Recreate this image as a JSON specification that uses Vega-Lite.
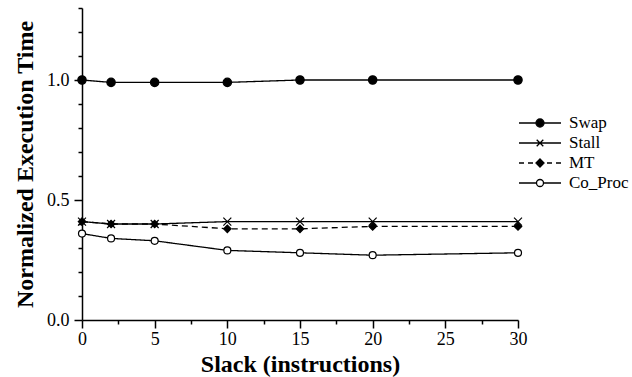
{
  "$schema": "https://vega.github.io/schema/vega-lite/v6.json",
  "width": 436,
  "height": 312,
  "autosize": {"type": "none"},
  "padding": {"left": 82, "top": 8, "right": 114, "bottom": 57},
  "background": "white",
  "config": {
    "view": {"stroke": null},
    "font": "Times New Roman",
    "axis": {
      "grid": false,
      "domainColor": "black",
      "domainWidth": 1.5,
      "tickColor": "black",
      "tickWidth": 1.5,
      "labelFont": "Times New Roman",
      "labelFontSize": 18,
      "labelColor": "black",
      "labelOverlap": false,
      "labelFlush": false,
      "titleFont": "Times New Roman",
      "titleFontSize": 24,
      "titleFontWeight": "bold",
      "titleColor": "black"
    }
  },
  "data": {
    "values": [
      {"slack": 0, "series": "Swap", "value": 1.0},
      {"slack": 2, "series": "Swap", "value": 0.99},
      {"slack": 5, "series": "Swap", "value": 0.99},
      {"slack": 10, "series": "Swap", "value": 0.99},
      {"slack": 15, "series": "Swap", "value": 1.0},
      {"slack": 20, "series": "Swap", "value": 1.0},
      {"slack": 30, "series": "Swap", "value": 1.0},
      {"slack": 0, "series": "Stall", "value": 0.41},
      {"slack": 2, "series": "Stall", "value": 0.40},
      {"slack": 5, "series": "Stall", "value": 0.40},
      {"slack": 10, "series": "Stall", "value": 0.41},
      {"slack": 15, "series": "Stall", "value": 0.41},
      {"slack": 20, "series": "Stall", "value": 0.41},
      {"slack": 30, "series": "Stall", "value": 0.41},
      {"slack": 0, "series": "MT", "value": 0.41},
      {"slack": 2, "series": "MT", "value": 0.40},
      {"slack": 5, "series": "MT", "value": 0.40},
      {"slack": 10, "series": "MT", "value": 0.38},
      {"slack": 15, "series": "MT", "value": 0.38},
      {"slack": 20, "series": "MT", "value": 0.39},
      {"slack": 30, "series": "MT", "value": 0.39},
      {"slack": 0, "series": "Co_Proc", "value": 0.36},
      {"slack": 2, "series": "Co_Proc", "value": 0.34},
      {"slack": 5, "series": "Co_Proc", "value": 0.33},
      {"slack": 10, "series": "Co_Proc", "value": 0.29},
      {"slack": 15, "series": "Co_Proc", "value": 0.28},
      {"slack": 20, "series": "Co_Proc", "value": 0.27},
      {"slack": 30, "series": "Co_Proc", "value": 0.28}
    ]
  },
  "encoding": {
    "x": {
      "field": "slack", "type": "quantitative",
      "scale": {"domain": [0, 30], "nice": false, "zero": false},
      "axis": {
        "title": "Slack (instructions)",
        "values": [0, 2.5, 5, 7.5, 10, 12.5, 15, 17.5, 20, 22.5, 25, 27.5, 30],
        "labelExpr": "datum.value % 5 === 0 ? datum.label : ''",
        "tickSize": {"condition": {"test": "datum.value % 5 === 0", "value": 8}, "value": 4},
        "labelPadding": 2,
        "titlePadding": 4
      }
    },
    "y": {
      "field": "value", "type": "quantitative",
      "scale": {"domain": [0, 1.3], "nice": false, "zero": false},
      "axis": {
        "title": "Normalized Execution Time",
        "values": [0, 0.1, 0.2, 0.3, 0.4, 0.5, 0.6, 0.7, 0.8, 0.9, 1.0, 1.1, 1.2, 1.3],
        "format": ".1f",
        "labelExpr": "abs(datum.value*2 - round(datum.value*2)) < 0.001 ? datum.label : ''",
        "tickSize": {"condition": {"test": "abs(datum.value*2 - round(datum.value*2)) < 0.001", "value": 8}, "value": 4},
        "labelPadding": 5,
        "titlePadding": 9
      }
    }
  },
  "layer": [
    {
      "mark": {"type": "line", "color": "black", "strokeWidth": 1.3},
      "encoding": {
        "detail": {"field": "series"},
        "strokeDash": {
          "field": "series", "type": "nominal",
          "scale": {"domain": ["Swap", "Stall", "MT", "Co_Proc"], "range": [[1, 0], [1, 0], [6, 4], [1, 0]]},
          "legend": null
        }
      }
    },
    {
      "mark": {"type": "point", "filled": true, "stroke": "black", "strokeWidth": 1.2, "opacity": 1},
      "encoding": {
        "shape": {
          "field": "series", "type": "nominal",
          "scale": {"domain": ["Swap", "Stall", "MT", "Co_Proc"], "range": ["circle", "M-1,-1L1,1M-1,1L1,-1", "diamond", "circle"]},
          "legend": null
        },
        "fill": {
          "field": "series", "type": "nominal",
          "scale": {"domain": ["Swap", "Stall", "MT", "Co_Proc"], "range": ["black", "transparent", "black", "white"]},
          "legend": null
        },
        "size": {
          "field": "series", "type": "nominal",
          "scale": {"domain": ["Swap", "Stall", "MT", "Co_Proc"], "range": [70, 49, 36, 50]},
          "legend": null
        }
      }
    },
    {
      "mark": {"type": "point", "filled": true, "stroke": "black", "strokeWidth": 1.3, "opacity": 0},
      "encoding": {
        "shape": {
          "field": "series", "type": "nominal",
          "scale": {"domain": ["Swap", "Stall", "MT", "Co_Proc"], "range": [
            "M-2.1,0H-0.4M0.4,0H2.1M-0.4,0A0.4,0.4 0 1,1 0.4,0A0.4,0.4 0 1,1 -0.4,0Z",
            "M-2.1,0H2.1M-0.33,-0.33L0.33,0.33M-0.33,0.33L0.33,-0.33",
            "M-2.1,0H-1.6M-1.2,0H-0.7M0.7,0H1.2M1.6,0H2.1M0,-0.4L0.4,0L0,0.4L-0.4,0Z",
            "M-2.1,0H-0.35M0.35,0H2.1M-0.35,0A0.35,0.35 0 1,1 0.35,0A0.35,0.35 0 1,1 -0.35,0Z"
          ]},
          "legend": {
            "title": null,
            "orient": "none",
            "legendX": 447,
            "legendY": 104,
            "padding": 0,
            "symbolSize": 400,
            "symbolOpacity": 1,
            "symbolStrokeColor": "black",
            "symbolStrokeWidth": 1.3,
            "labelOffset": 18,
            "rowPadding": 1,
            "labelFont": "Times New Roman",
            "labelFontSize": 17,
            "labelColor": "black",
            "encode": {"symbols": {"update": {"stroke": {"value": "black"}, "strokeWidth": {"value": 1.3}, "opacity": {"value": 1}}}}
          }
        },
        "fill": {
          "field": "series", "type": "nominal",
          "scale": {"domain": ["Swap", "Stall", "MT", "Co_Proc"], "range": ["black", "black", "black", "white"]},
          "legend": {
            "title": null,
            "orient": "none",
            "legendX": 447,
            "legendY": 104,
            "padding": 0,
            "symbolSize": 400,
            "symbolOpacity": 1,
            "symbolStrokeColor": "black",
            "symbolStrokeWidth": 1.3,
            "labelOffset": 18,
            "rowPadding": 1,
            "labelFont": "Times New Roman",
            "labelFontSize": 17,
            "labelColor": "black",
            "encode": {"symbols": {"update": {"stroke": {"value": "black"}, "strokeWidth": {"value": 1.3}, "opacity": {"value": 1}}}}
          }
        }
      }
    }
  ],
  "resolve": {"scale": {"shape": "independent", "fill": "independent", "size": "independent", "strokeDash": "independent"}}
}
